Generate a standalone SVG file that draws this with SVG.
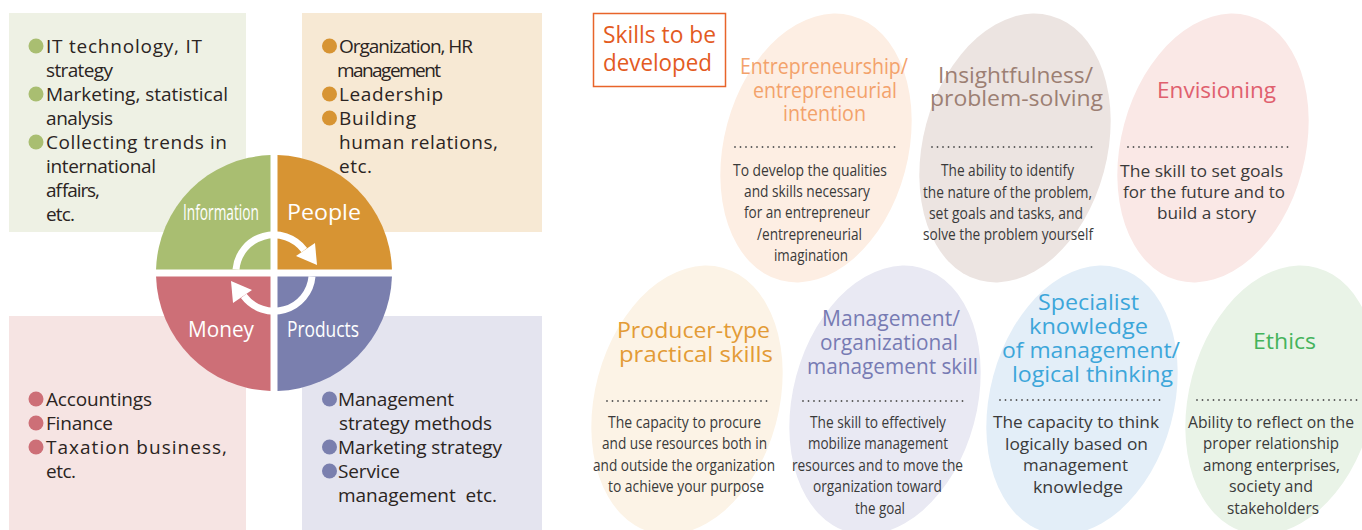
<svg xmlns="http://www.w3.org/2000/svg" width="1362" height="530" viewBox="0 0 1362 530">
<style>
text{font-family:"Open Sans","Noto Sans","DejaVu Sans",sans-serif}
.list{font-size:19px;fill:#2b2422}
.ql{font-size:22px;fill:#ffffff}
.ttl{font-size:21.5px}
.body{font-size:17px;fill:#3a3a3a}
.dots{stroke:#555;stroke-width:1.8;stroke-linecap:round;stroke-dasharray:0 5.5;fill:none}
.ring{fill:none;stroke:#fff;stroke-width:7}
</style>
<rect width="1362" height="530" fill="#ffffff"/>

<g id="box-information">
<rect x="9" y="13" width="237" height="219" fill="#eef1e4"/>
<g fill="#a9be71"><circle cx="36" cy="46" r="7.5"/><circle cx="36" cy="94" r="7.5"/><circle cx="36" cy="142" r="7.5"/></g>
<g class="list">
<text x="46" y="53" textLength="156" lengthAdjust="spacing">IT technology, IT</text>
<text x="46" y="77" textLength="67" lengthAdjust="spacing">strategy</text>
<text x="46" y="101" textLength="182" lengthAdjust="spacing">Marketing, statistical</text>
<text x="46" y="125" textLength="67" lengthAdjust="spacing">analysis</text>
<text x="46" y="149" textLength="181" lengthAdjust="spacing">Collecting trends in</text>
<text x="46" y="173" textLength="110" lengthAdjust="spacing">international</text>
<text x="46" y="197" textLength="54" lengthAdjust="spacing">affairs,</text>
<text x="46" y="221" textLength="29" lengthAdjust="spacing">etc.</text>
</g>
</g>

<g id="box-people">
<rect x="302" y="13" width="240" height="219" fill="#f7e9d4"/>
<g fill="#d79433"><circle cx="329.5" cy="46" r="7.5"/><circle cx="329.5" cy="94" r="7.5"/><circle cx="329.5" cy="118" r="7.5"/></g>
<g class="list">
<text x="339" y="53" textLength="134" lengthAdjust="spacing">Organization, HR</text>
<text x="337" y="77" textLength="104" lengthAdjust="spacing">management</text>
<text x="339" y="101" textLength="104" lengthAdjust="spacing">Leadership</text>
<text x="339" y="125" textLength="77" lengthAdjust="spacing">Building</text>
<text x="339" y="149" textLength="159" lengthAdjust="spacing">human relations,</text>
<text x="339" y="173" textLength="33" lengthAdjust="spacing">etc.</text>
</g>
</g>

<g id="box-money">
<rect x="9" y="316" width="237" height="214" fill="#f6e4e3"/>
<g fill="#cd6f77"><circle cx="36" cy="399" r="7.5"/><circle cx="36" cy="423" r="7.5"/><circle cx="36" cy="447" r="7.5"/></g>
<g class="list">
<text x="46" y="406" textLength="106" lengthAdjust="spacing">Accountings</text>
<text x="46" y="430" textLength="67" lengthAdjust="spacing">Finance</text>
<text x="46" y="454" textLength="181" lengthAdjust="spacing">Taxation business,</text>
<text x="46" y="478" textLength="30" lengthAdjust="spacing">etc.</text>
</g>
</g>

<g id="box-products">
<rect x="302" y="316" width="240" height="214" fill="#e4e4ef"/>
<g fill="#7a7fae"><circle cx="329.5" cy="399" r="7.5"/><circle cx="329.5" cy="447" r="7.5"/><circle cx="329.5" cy="471" r="7.5"/></g>
<g class="list">
<text x="338" y="406" textLength="116" lengthAdjust="spacing">Management</text>
<text x="339" y="430" textLength="153" lengthAdjust="spacing">strategy methods</text>
<text x="338" y="454" textLength="164" lengthAdjust="spacing">Marketing strategy</text>
<text x="338" y="478" textLength="62" lengthAdjust="spacing">Service</text>
<text x="338" y="502" textLength="159" lengthAdjust="spacing" xml:space="preserve">management  etc.</text>
</g>
</g>

<g id="cycle-circle">
<path d="M270.5,269.5 V155.05 A118,118 0 0 0 156.05,269.5 Z" fill="#a9be71"/>
<path d="M277.5,269.5 V155.05 A118,118 0 0 1 391.95,269.5 Z" fill="#d79433"/>
<path d="M270.5,276.5 V390.95 A118,118 0 0 1 156.05,276.5 Z" fill="#cd6f77"/>
<path d="M277.5,276.5 V390.95 A118,118 0 0 0 391.95,276.5 Z" fill="#7a7fae"/>
<text class="ql" transform="scale(0.65,1)" x="281.54" y="220" textLength="116.9" lengthAdjust="spacingAndGlyphs">Information</text>
<text class="ql" x="287" y="220" textLength="74" lengthAdjust="spacingAndGlyphs">People</text>
<text class="ql" x="188" y="337" textLength="66" lengthAdjust="spacingAndGlyphs">Money</text>
<text class="ql" transform="scale(0.8,1)" x="358.75" y="337" textLength="90" lengthAdjust="spacingAndGlyphs">Products</text>
</g>

<g id="connectors">
<path class="ring" d="M236,269.5 A38,38 0 0 1 304.3,250.1"/>
<polygon points="296,256 317,265 315,243" fill="#fff"/>
<path class="ring" d="M312,276.5 A38,38 0 0 1 243.7,295.9"/>
<polygon points="252,290 231,281 233,303" fill="#fff"/>
</g>

<g id="skills-header">
<rect x="593.5" y="13.5" width="132" height="73" fill="#fff" stroke="#e8642a" stroke-width="1.5"/>
<text font-size="24" fill="#e35b1f"><tspan x="603" y="43" textLength="113" lengthAdjust="spacingAndGlyphs">Skills to be</tspan><tspan x="603" y="71" textLength="109" lengthAdjust="spacingAndGlyphs">developed</tspan></text>
</g>

<g id="skill-entrepreneurship">
<ellipse cx="816" cy="148" rx="92" ry="137" transform="rotate(15 816 148)" fill="#fdeee3"/>
<text class="ttl" fill="#f3a26b"><tspan x="740" y="74" textLength="168" lengthAdjust="spacingAndGlyphs">Entrepreneurship/</tspan><tspan x="753" y="97.5" textLength="144" lengthAdjust="spacingAndGlyphs">entrepreneurial</tspan><tspan x="783" y="121" textLength="83" lengthAdjust="spacingAndGlyphs">intention</tspan></text>
<line class="dots" x1="735" y1="147" x2="898" y2="147"/>
<g class="body" transform="scale(0.8,1)">
<text x="916.25" y="176" textLength="192.5" lengthAdjust="spacingAndGlyphs">To develop the qualities</text>
<text x="930" y="197" textLength="157.5" lengthAdjust="spacingAndGlyphs">and skills necessary</text>
<text x="930" y="218.5" textLength="157.5" lengthAdjust="spacingAndGlyphs">for an entrepreneur</text>
<text x="946.25" y="240" textLength="131.25" lengthAdjust="spacingAndGlyphs">/entrepreneurial</text>
<text x="967.5" y="261" textLength="92.5" lengthAdjust="spacingAndGlyphs">imagination</text>
</g>
</g>

<g id="skill-insightfulness">
<ellipse cx="1015" cy="148" rx="92" ry="137" transform="rotate(15 1015 148)" fill="#ece4e1"/>
<text class="ttl" fill="#9c7f73"><tspan x="938" y="82.5" textLength="155" lengthAdjust="spacingAndGlyphs">Insightfulness/</tspan><tspan x="930" y="105.5" textLength="173" lengthAdjust="spacingAndGlyphs">problem-solving</tspan></text>
<line class="dots" x1="932" y1="147" x2="1095" y2="147"/>
<g class="body" transform="scale(0.8,1)">
<text x="1176.25" y="176.5" textLength="166.25" lengthAdjust="spacingAndGlyphs">The ability to identify</text>
<text x="1153.75" y="198" textLength="211.25" lengthAdjust="spacingAndGlyphs">the nature of the problem,</text>
<text x="1161.25" y="219" textLength="192.5" lengthAdjust="spacingAndGlyphs">set goals and tasks, and</text>
<text x="1153.75" y="240.5" textLength="212.5" lengthAdjust="spacingAndGlyphs">solve the problem yourself</text>
</g>
</g>

<g id="skill-envisioning">
<ellipse cx="1213" cy="148" rx="92" ry="137" transform="rotate(15 1213 148)" fill="#fae8e6"/>
<text class="ttl" x="1157" y="98" font-size="23" fill="#e0606e" textLength="119" lengthAdjust="spacingAndGlyphs">Envisioning</text>
<line class="dots" x1="1128" y1="147" x2="1293" y2="147"/>
<g class="body" font-size="18">
<text x="1120" y="177" textLength="163" lengthAdjust="spacingAndGlyphs">The skill to set goals</text>
<text x="1123" y="198" textLength="162" lengthAdjust="spacingAndGlyphs">for the future and to</text>
<text x="1157" y="219" textLength="99" lengthAdjust="spacingAndGlyphs">build a story</text>
</g>
</g>

<g id="skill-producer">
<ellipse cx="687" cy="400" rx="92" ry="137" transform="rotate(15 687 400)" fill="#fcf3e6"/>
<text class="ttl" font-size="22.5" fill="#e39b36"><tspan x="617" y="338" textLength="153" lengthAdjust="spacingAndGlyphs">Producer-type</tspan><tspan x="619" y="362" textLength="154" lengthAdjust="spacingAndGlyphs">practical skills</tspan></text>
<line class="dots" x1="607" y1="401" x2="770" y2="401"/>
<g class="body" transform="scale(0.8,1)">
<text x="760" y="428" textLength="191.25" lengthAdjust="spacingAndGlyphs">The capacity to procure</text>
<text x="752.5" y="449.5" textLength="206.25" lengthAdjust="spacingAndGlyphs">and use resources both in</text>
<text x="741.25" y="471" textLength="227.5" lengthAdjust="spacingAndGlyphs">and outside the organization</text>
<text x="760" y="492.5" textLength="195" lengthAdjust="spacingAndGlyphs">to achieve your purpose</text>
</g>
</g>

<g id="skill-management">
<ellipse cx="885" cy="400" rx="92" ry="137" transform="rotate(15 885 400)" fill="#e9e9f3"/>
<text class="ttl" fill="#777bb3"><tspan x="822" y="326" textLength="138" lengthAdjust="spacingAndGlyphs">Management/</tspan><tspan x="820" y="349.5" textLength="138" lengthAdjust="spacingAndGlyphs">organizational</tspan><tspan x="807" y="373.5" textLength="171" lengthAdjust="spacingAndGlyphs">management skill</tspan></text>
<line class="dots" x1="803" y1="401" x2="967" y2="401"/>
<g class="body" transform="scale(0.8,1)">
<text x="1012.5" y="428" textLength="170" lengthAdjust="spacingAndGlyphs">The skill to effectively</text>
<text x="1010" y="449.5" textLength="175" lengthAdjust="spacingAndGlyphs">mobilize management</text>
<text x="990" y="471" textLength="213.75" lengthAdjust="spacingAndGlyphs">resources and to move the</text>
<text x="1016.25" y="492.5" textLength="161.25" lengthAdjust="spacingAndGlyphs">organization toward</text>
<text x="1068.75" y="514" textLength="62.5" lengthAdjust="spacingAndGlyphs">the goal</text>
</g>
</g>

<g id="skill-specialist">
<ellipse cx="1082" cy="400" rx="92" ry="137" transform="rotate(15 1082 400)" fill="#e3eef8"/>
<text class="ttl" fill="#3ca6da"><tspan x="1038" y="310" textLength="101" lengthAdjust="spacingAndGlyphs">Specialist</tspan><tspan x="1029" y="334" textLength="119" lengthAdjust="spacingAndGlyphs">knowledge</tspan><tspan x="1002" y="358" textLength="178" lengthAdjust="spacingAndGlyphs">of management/</tspan><tspan x="1012" y="381.5" textLength="161" lengthAdjust="spacingAndGlyphs">logical thinking</tspan></text>
<line class="dots" x1="1000" y1="400" x2="1163" y2="400"/>
<g class="body" font-size="18">
<text x="993" y="428" textLength="166" lengthAdjust="spacingAndGlyphs">The capacity to think</text>
<text x="1005" y="449.5" textLength="143" lengthAdjust="spacingAndGlyphs">logically based on</text>
<text x="1023" y="471" textLength="105" lengthAdjust="spacingAndGlyphs">management</text>
<text x="1033" y="492.5" textLength="90" lengthAdjust="spacingAndGlyphs">knowledge</text>
</g>
</g>

<g id="skill-ethics">
<ellipse cx="1281" cy="400" rx="92" ry="137" transform="rotate(15 1281 400)" fill="#e9f3e7"/>
<text class="ttl" x="1253" y="349" font-size="23" fill="#45b35c" textLength="63" lengthAdjust="spacingAndGlyphs">Ethics</text>
<line class="dots" x1="1197" y1="400" x2="1362" y2="400"/>
<g class="body" transform="scale(0.9,1)">
<text x="1320" y="428" textLength="184.44" lengthAdjust="spacingAndGlyphs">Ability to reflect on the</text>
<text x="1336.67" y="449.5" textLength="151.11" lengthAdjust="spacingAndGlyphs">proper relationship</text>
<text x="1336.67" y="471" textLength="152.22" lengthAdjust="spacingAndGlyphs">among enterprises,</text>
<text x="1365.56" y="492.5" textLength="93.33" lengthAdjust="spacingAndGlyphs">society and</text>
<text x="1363.33" y="514" textLength="102.22" lengthAdjust="spacingAndGlyphs">stakeholders</text>
</g>
</g>
</svg>
